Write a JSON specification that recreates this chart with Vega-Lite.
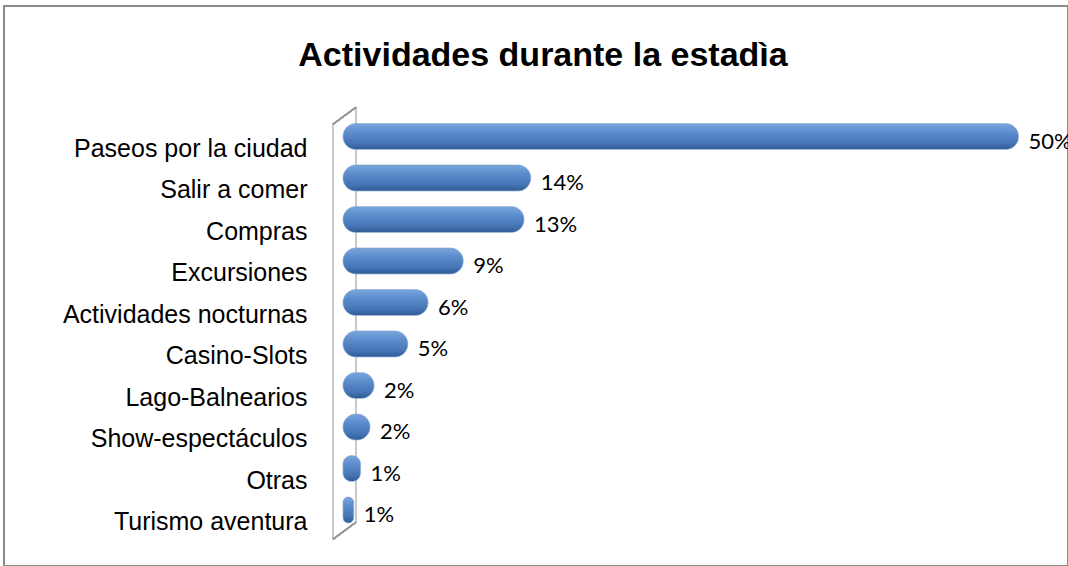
{
  "$schema": "https://vega.github.io/schema/vega-lite/v6.json",
  "width": 1064,
  "height": 560,
  "autosize": {"type": "none"},
  "padding": {"left": 4, "top": 6, "right": 0, "bottom": 0},
  "background": "white",
  "config": {"view": {"stroke": "#8a8a8a", "strokeWidth": 2}},
  "title": {
    "text": "Actividades durante la estadìa",
    "font": "Liberation Sans",
    "fontSize": 34,
    "fontWeight": "bold",
    "color": "#000000",
    "anchor": "middle",
    "frame": "group",
    "offset": -94,
    "baseline": "alphabetic",
    "dx": 7
  },
  "data": {
    "values": [
      {"actividad": "Paseos por la ciudad", "pct": 50.0, "label": "50%"},
      {"actividad": "Salir a comer", "pct": 13.9, "label": "14%"},
      {"actividad": "Compras", "pct": 13.4, "label": "13%"},
      {"actividad": "Excursiones", "pct": 8.9, "label": "9%"},
      {"actividad": "Actividades nocturnas", "pct": 6.3, "label": "6%"},
      {"actividad": "Casino-Slots", "pct": 4.8, "label": "5%"},
      {"actividad": "Lago-Balnearios", "pct": 2.3, "label": "2%"},
      {"actividad": "Show-espectáculos", "pct": 2.0, "label": "2%"},
      {"actividad": "Otras", "pct": 1.3, "label": "1%"},
      {"actividad": "Turismo aventura", "pct": 0.8, "label": "1%"}
    ]
  },
  "encoding": {
    "y": {
      "field": "actividad",
      "type": "nominal",
      "sort": null,
      "scale": {"type": "band", "paddingInner": 0, "paddingOuter": 0, "range": [109.75, 524.75]},
      "axis": {
        "orient": "left",
        "offset": -303,
        "domain": false,
        "ticks": false,
        "grid": false,
        "labelPadding": 0,
        "labelFont": "Liberation Sans",
        "labelFontSize": 25,
        "labelColor": "#000000",
        "labelOffset": 12,
        "labelLimit": 0,
        "title": null
      }
    }
  },
  "layer": [
    {
      "mark": {"type": "tick", "color": "#9a9a9a", "thickness": 1.5, "size": 41.6, "yOffset": -8.5},
      "encoding": {
        "x": {"datum": 0.96, "type": "quantitative", "scale": {"domain": [-25.09, 53.66], "nice": false, "zero": false}, "axis": null}
      }
    },
    {
      "mark": {"type": "rule", "color": "#9a9a9a", "strokeWidth": 1.5, "yOffset": 8.5, "y2Offset": -8.5},
      "encoding": {
        "x": {"datum": -0.74, "type": "quantitative", "scale": {"domain": [-25.09, 53.66], "nice": false, "zero": false}, "axis": null},
        "x2": {"datum": 0.96},
        "y": {"datum": "Paseos por la ciudad", "type": "nominal", "bandPosition": 0},
        "y2": {"datum": "Paseos por la ciudad", "bandPosition": 0}
      }
    },
    {
      "mark": {"type": "rule", "color": "#9a9a9a", "strokeWidth": 1.5, "yOffset": 8.5, "y2Offset": -8.5},
      "encoding": {
        "x": {"datum": -0.74, "type": "quantitative", "scale": {"domain": [-25.09, 53.66], "nice": false, "zero": false}, "axis": null},
        "x2": {"datum": 0.96},
        "y": {"datum": "Turismo aventura", "type": "nominal", "bandPosition": 1},
        "y2": {"datum": "Turismo aventura", "bandPosition": 1}
      }
    },
    {
      "mark": {
        "type": "bar",
        "height": 26,
        "cornerRadius": 13,
        "stroke": "#7f9fcc",
        "strokeWidth": 0.6,
        "color": {
          "gradient": "linear",
          "x1": 0, "y1": 0, "x2": 0, "y2": 1,
          "stops": [
            {"offset": 0, "color": "#7aa6de"},
            {"offset": 0.35, "color": "#5b8ccc"},
            {"offset": 0.75, "color": "#4675b5"},
            {"offset": 1, "color": "#2f5a94"}
          ]
        }
      },
      "encoding": {
        "x": {"field": "pct", "type": "quantitative", "scale": {"domain": [-25.09, 53.66], "nice": false, "zero": false}, "axis": null}
      }
    },
    {
      "mark": {"type": "tick", "color": "#9a9a9a", "thickness": 1.5, "size": 41.6, "yOffset": 8.5},
      "encoding": {
        "x": {"datum": -0.74, "type": "quantitative", "scale": {"domain": [-25.09, 53.66], "nice": false, "zero": false}, "axis": null}
      }
    },
    {
      "mark": {"type": "text", "align": "left", "baseline": "middle", "dx": 10, "dy": 5, "font": "Lato", "fontSize": 22, "color": "#000000"},
      "encoding": {
        "x": {"field": "pct", "type": "quantitative", "scale": {"domain": [-25.09, 53.66], "nice": false, "zero": false}, "axis": null},
        "text": {"field": "label"}
      }
    }
  ]
}
